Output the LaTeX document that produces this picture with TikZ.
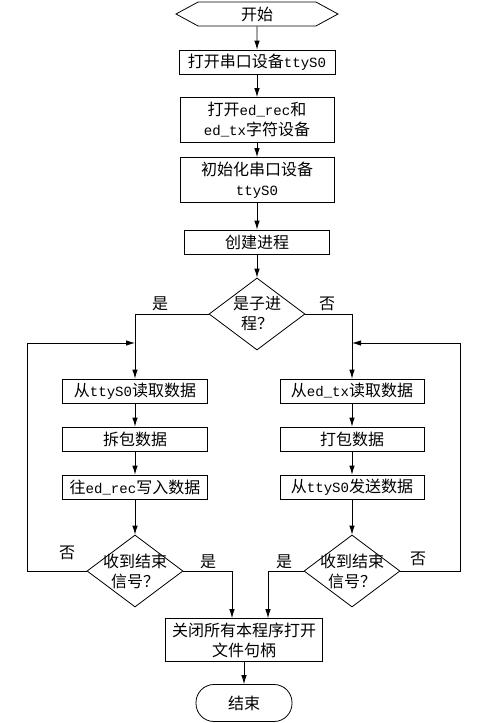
\documentclass[tikz,border=0pt]{standalone}
\usepackage{fontspec}
\setmainfont{Noto Sans CJK SC}
\setmonofont{Liberation Mono}[Scale=0.88]
\usetikzlibrary{arrows.meta,shapes.geometric,shapes.symbols}
\begin{document}
\begin{tikzpicture}[
  x=1pt, y=-1pt,
  every node/.style={font=\fontsize{16}{20}\selectfont},
  box/.style={rectangle, draw, line width=0.8pt, minimum height=24pt, align=center, inner sep=2pt},
  dia/.style={diamond, draw, line width=0.8pt, minimum width=96pt, minimum height=72pt, inner sep=0pt},
  hexa/.style={signal, signal to=east and west, signal pointer angle=57, draw, line width=0.8pt, minimum width=162pt, minimum height=24pt},
  arr/.style={-{Latex[length=9pt,width=5.5pt]}, line width=0.8pt},
]
  \useasboundingbox (0,0) rectangle (486,723);

  \node[hexa] (start) at (257,14) {开始};
  \node[box, minimum width=156pt] (open) at (257,62) {打开串口设备\texttt{ttyS0}};
  \node[box, minimum width=154pt, minimum height=45pt] (dev) at (257,120) {打开\texttt{ed\_rec}和\\\texttt{ed\_tx}字符设备};
  \node[box, minimum width=154pt, minimum height=45pt] (init) at (257,180) {初始化串口设备\\\texttt{ttyS0}};
  \node[box, minimum width=145pt] (fork) at (257,242) {创建进程};
  \node[dia] (child) at (257,314) {};
  \node[align=center] (childtxt) at (child) {是子进\\程？};

  \node[box, minimum width=145pt] (rd) at (135,391) {从\texttt{ttyS0}读取数据};
  \node[box, minimum width=145pt] (unpack) at (135,439) {拆包数据};
  \node[box, minimum width=145pt] (wr) at (135,487) {往\texttt{ed\_rec}写入数据};
  \node[dia] (endl) at (135,571) {};
  \node[align=center] (endltxt) at (endl) {收到结束\\信号？};

  \node[box, minimum width=144pt] (rdtx) at (352,391) {从\texttt{ed\_tx}读取数据};
  \node[box, minimum width=144pt] (pack) at (352,439) {打包数据};
  \node[box, minimum width=144pt] (send) at (352,487) {从\texttt{ttyS0}发送数据};
  \node[dia] (endr) at (352,571) {};
  \node[align=center] (endrtxt) at (endr) {收到结束\\信号？};

  \node[box, minimum width=157pt, minimum height=43pt] (close) at (244,640) {关闭所有本程序打开\\文件句柄};
  \node[draw, line width=0.8pt, rounded corners=18pt, minimum width=96pt, minimum height=37pt] (stop) at (244,703) {结束};

  \coordinate (backl) at (27,343);
  \coordinate (joinl) at (135,343);
  \coordinate (backr) at (460,343);
  \coordinate (joinr) at (352,343);

  \draw[arr] (start) -- (open);
  \draw[arr] (open) -- (dev);
  \draw[arr] (dev) -- (init);
  \draw[arr] (init) -- (fork);
  \draw[arr] (fork) -- (child);
  \draw[arr] (child.west) -| (rd);
  \draw[arr] (child.east) -| (rdtx);

  \draw[arr] (rd) -- (unpack);
  \draw[arr] (unpack) -- (wr);
  \draw[arr] (wr) -- (endl);
  \draw[arr] (rdtx) -- (pack);
  \draw[arr] (pack) -- (send);
  \draw[arr] (send) -- (endr);

  \draw[arr] (endl.west) -| (backl) -- (joinl);
  \draw[arr] (endr.east) -| (backr) -- (joinr);
  \draw[arr] (endl.east) -| ([xshift=-12pt]close.north);
  \draw[arr] (endr.west) -| ([xshift=24pt]close.north);
  \draw[arr] (close) -- (stop);

  \node (yes1) at (160,304) {是};
  \node (no1) at (327,304) {否};
  \node (nol) at (67,553) {否};
  \node (yesl) at (208,562) {是};
  \node (yesr) at (284,562) {是};
  \node (nor) at (418,559) {否};
\end{tikzpicture}
\end{document}
